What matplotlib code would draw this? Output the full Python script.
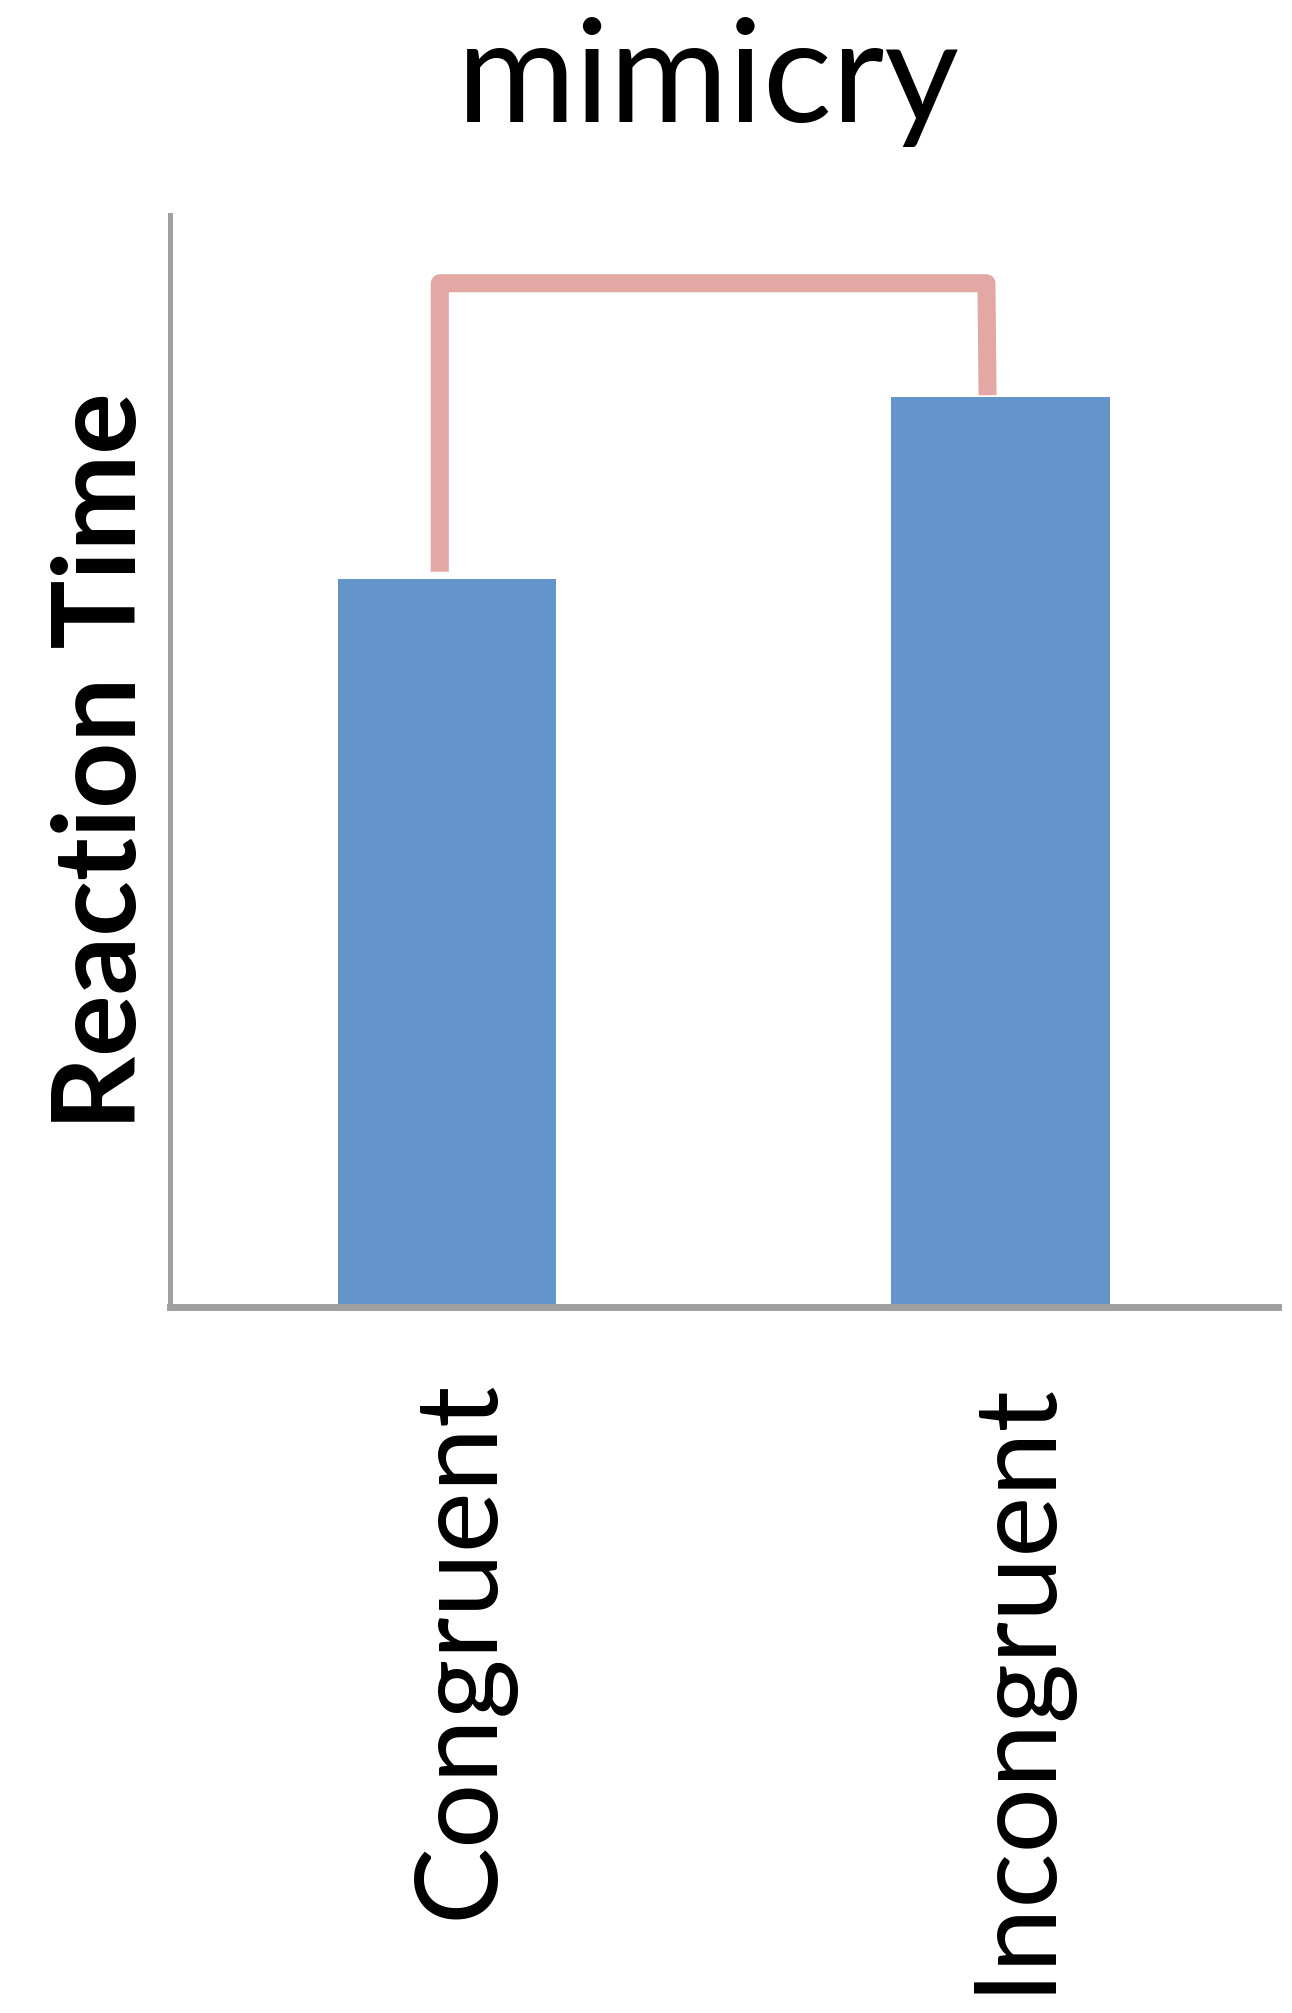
import matplotlib
matplotlib.use("Agg")
import matplotlib.pyplot as plt
from matplotlib.transforms import ScaledTranslation

# Mean reaction time per condition (arbitrary units)
categories = ["Congruent", "Incongruent"]
reaction_time = [0.80, 1.00]

title = "mimicry"
ylabel = "Reaction Time"

BAR_COLOR = "#6395CB"
BRACKET_COLOR = "#E3A8A4"
AXIS_COLOR = "#A0A0A0"
FONT = "Lato"

fig = plt.figure(figsize=(12.92, 20.13), dpi=100)
ax = fig.add_axes([0.1316, 0.3507, 0.8574, 0.5425])

x = list(range(len(categories)))
ax.bar(x, reaction_time, width=0.395, color=BAR_COLOR, zorder=2)

ax.set_xlim(-0.5, 1.5)
ax.set_ylim(0, 1.2)

# Significance bracket between the two conditions
top = max(reaction_time) + 0.125
bx = [x[0] - 0.013, x[0] - 0.013, x[1] - 0.026, x[1] - 0.024]
by = [reaction_time[0] + 0.008, top, top, reaction_time[1] + 0.002]
ax.plot(bx, by, color=BRACKET_COLOR, lw=13, solid_joinstyle="round",
        solid_capstyle="butt", zorder=3, clip_on=False)

for side in ("top", "right"):
    ax.spines[side].set_visible(False)
ax.spines["left"].set_color(AXIS_COLOR)
ax.spines["left"].set_linewidth(3.6)
ax.spines["bottom"].set_color(AXIS_COLOR)
ax.spines["bottom"].set_linewidth(5)

ax.set_yticks([])
ax.set_xticks(x)
ax.set_xticklabels(categories, rotation=90, fontsize=83, family=FONT)
ax.tick_params(axis="x", length=0, pad=52)
shift = ScaledTranslation(0.15, 0, fig.dpi_scale_trans)
for lbl in ax.get_xticklabels():
    lbl.set_transform(lbl.get_transform() + shift)

ax.set_ylabel(ylabel, fontsize=83, family=FONT, fontweight="bold", labelpad=11)

fig.text(708 / 1292, 1 - 122 / 2013, title, ha="center", va="baseline",
         fontsize=104, family=FONT)

fig.savefig("out.png", dpi=100, facecolor="white")
